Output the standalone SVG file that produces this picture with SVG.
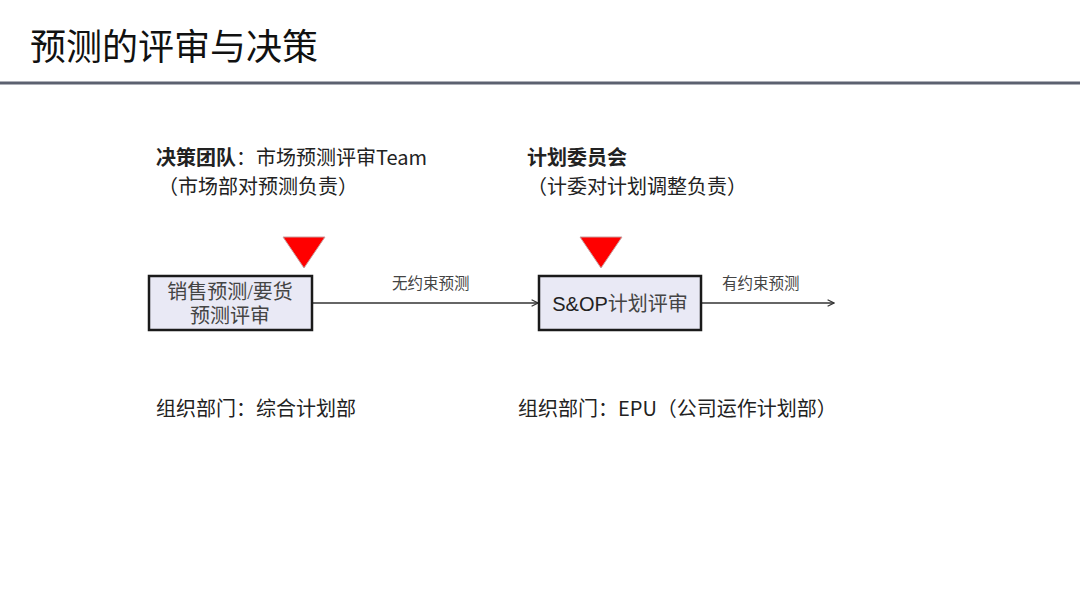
<svg xmlns="http://www.w3.org/2000/svg" width="1080" height="608" viewBox="0 0 1080 608">
<defs>
<style>
.t{font-family:"Noto Sans CJK SC","Liberation Sans",sans-serif;fill:#222;}
.title{font-size:36px;fill:#111;}
.h{font-size:20px;}
.b{font-weight:bold;}
.box{fill:#e9e9f5;stroke:#1a1a1a;stroke-width:2.5;}
.bt{font-family:"Liberation Serif","Noto Sans CJK SC",serif;font-size:20px;fill:#444;text-anchor:middle;}
.lbl{font-family:"Liberation Serif","Noto Sans CJK SC",serif;font-size:15.5px;fill:#444;}
.conn{stroke:#333;stroke-width:1.5;fill:none;}
.tri{fill:#ff0000;stroke:#c8a0a0;stroke-width:1;}
</style>
<marker id="arr" viewBox="0 0 10 10" refX="9" refY="5" markerWidth="8" markerHeight="8" markerUnits="userSpaceOnUse" orient="auto">
<path d="M1,1 L9,5 L1,9" fill="none" stroke="#333" stroke-width="1.4"/>
</marker>
</defs>
<rect width="1080" height="608" fill="#ffffff"/>
<g id="title">
<text class="t title" x="30" y="60">预测的评审与决策</text>
<rect x="0" y="81.5" width="1080" height="3" fill="#5c6170"/>
</g>
<g id="team1">
<text class="t h" x="156" y="165"><tspan class="b">决策团队</tspan>：市场预测评审Team</text>
<text class="t h" x="158" y="194">（市场部对预测负责）</text>
</g>
<g id="team2">
<text class="t h b" x="527" y="165">计划委员会</text>
<text class="t h" x="527" y="194">（计委对计划调整负责）</text>
</g>
<g id="tri1"><polygon class="tri" points="283,237 325,237 304,268"/></g>
<g id="tri2"><polygon class="tri" points="580,237 622,237 601,268"/></g>
<g id="connectors">
<line class="conn" x1="313" y1="303" x2="538" y2="303" marker-end="url(#arr)"/>
<line class="conn" x1="702" y1="303" x2="834" y2="303" marker-end="url(#arr)"/>
<text class="lbl" x="392" y="289">无约束预测</text>
<text class="lbl" x="722" y="289">有约束预测</text>
</g>
<g id="box1">
<rect class="box" x="149" y="276" width="163" height="54"/>
<text class="bt" x="230" y="299">销售预测/要货</text>
<text class="bt" x="230" y="323">预测评审</text>
</g>
<g id="box2">
<rect class="box" x="539" y="276" width="162" height="54"/>
<text class="bt" x="620" y="311"><tspan font-family="Liberation Sans,sans-serif" fill="#222">S&amp;OP</tspan>计划评审</text>
</g>
<g id="org1"><text class="t h" x="156" y="416">组织部门：综合计划部</text></g>
<g id="org2"><text class="t h" x="518" y="416">组织部门：EPU（公司运作计划部）</text></g>
</svg>
